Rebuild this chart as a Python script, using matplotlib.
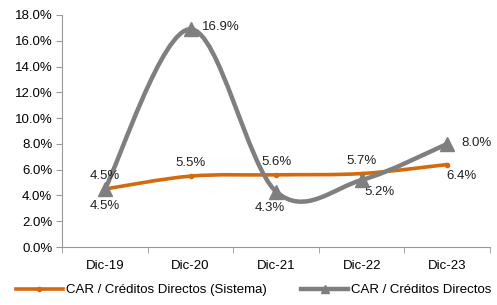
import matplotlib.pyplot as plt
from matplotlib.path import Path
from matplotlib.patches import PathPatch
from matplotlib.lines import Line2D
from matplotlib.ticker import FuncFormatter

plt.rcParams['font.family'] = ['Liberation Sans', 'DejaVu Sans']

labels = ['Dic-19', 'Dic-20', 'Dic-21', 'Dic-22', 'Dic-23']
sistema = [4.5, 5.5, 5.6, 5.7, 6.4]
empresa = [4.5, 16.9, 4.3, 5.2, 8.0]

orange = '#D46A0E'
gray = '#7F7F7F'


def smooth_path(xs, ys):
    # Excel-style smoothed line (Catmull-Rom as cubic Bezier)
    pts = list(zip(xs, ys))
    verts = [pts[0]]
    codes = [Path.MOVETO]
    n = len(pts)
    for i in range(n - 1):
        p0 = pts[i - 1] if i > 0 else pts[i]
        p1 = pts[i]
        p2 = pts[i + 1]
        p3 = pts[i + 2] if i + 2 < n else pts[i + 1]
        c1 = (p1[0] + (p2[0] - p0[0]) / 6, p1[1] + (p2[1] - p0[1]) / 6)
        c2 = (p2[0] - (p3[0] - p1[0]) / 6, p2[1] - (p3[1] - p1[1]) / 6)
        verts += [c1, c2, p2]
        codes += [Path.CURVE4] * 3
    return Path(verts, codes)


fig = plt.figure(figsize=(4.97, 3.05), dpi=100)
ax = fig.add_axes([0.125, 0.19, 0.861, 0.761])

x = list(range(len(labels)))
ax.add_patch(PathPatch(smooth_path(x, sistema), fill=False, edgecolor=orange, lw=2.6, zorder=3))
ax.plot(x, sistema, 'o', color=orange, ms=3, zorder=4)
ax.add_patch(PathPatch(smooth_path(x, empresa), fill=False, edgecolor=gray, lw=3.2, zorder=3))
ax.plot(x, empresa, '^', color=gray, ms=10, zorder=4)

# data labels
fs = 9.5
off_s = [(0, 13), (0, 13), (0, 13), (0, 13), (14, -11)]
off_e = [(0, -17), (30, 2), (-6, -16), (18, -12), (29, 1)]
for i in x:
    ax.annotate(f'{sistema[i]:.1f}%', (i, sistema[i]), xytext=off_s[i],
                textcoords='offset pixels', ha='center', va='center', fontsize=fs, color='#222222')
    ax.annotate(f'{empresa[i]:.1f}%', (i, empresa[i]), xytext=off_e[i],
                textcoords='offset pixels', ha='center', va='center', fontsize=fs, color='#222222')

ax.set_xlim(-0.5, len(labels) - 0.5)
ax.set_ylim(0, 18)
ax.set_yticks(range(0, 19, 2))
ax.yaxis.set_major_formatter(FuncFormatter(lambda v, p: f'{v:.1f}%'))
ax.set_xticks(x)
ax.set_xticklabels(labels)
ax.set_xticks([i - 0.5 for i in range(len(labels) + 1)], minor=True)
ax.tick_params(axis='x', which='major', length=0, pad=9, labelsize=fs)
ax.tick_params(axis='x', which='minor', length=4, color='#999999')
ax.tick_params(axis='y', length=4, color='#999999', labelsize=fs, pad=3)
for s in ['top', 'right']:
    ax.spines[s].set_visible(False)
for s in ['left', 'bottom']:
    ax.spines[s].set_color('#999999')

handles = [Line2D([], [], color=orange, lw=2.6, marker='o', ms=3),
           Line2D([], [], color=gray, lw=3.2, marker='^', ms=6)]
fig.legend(handles, ['CAR / Créditos Directos (Sistema)', 'CAR / Créditos Directos'],
           loc='lower center', bbox_to_anchor=(0.51, -0.01), ncol=2, frameon=False,
           fontsize=fs, handlelength=3.6, handletextpad=0.2, columnspacing=2.6)

fig.savefig('out.png', dpi=100)
